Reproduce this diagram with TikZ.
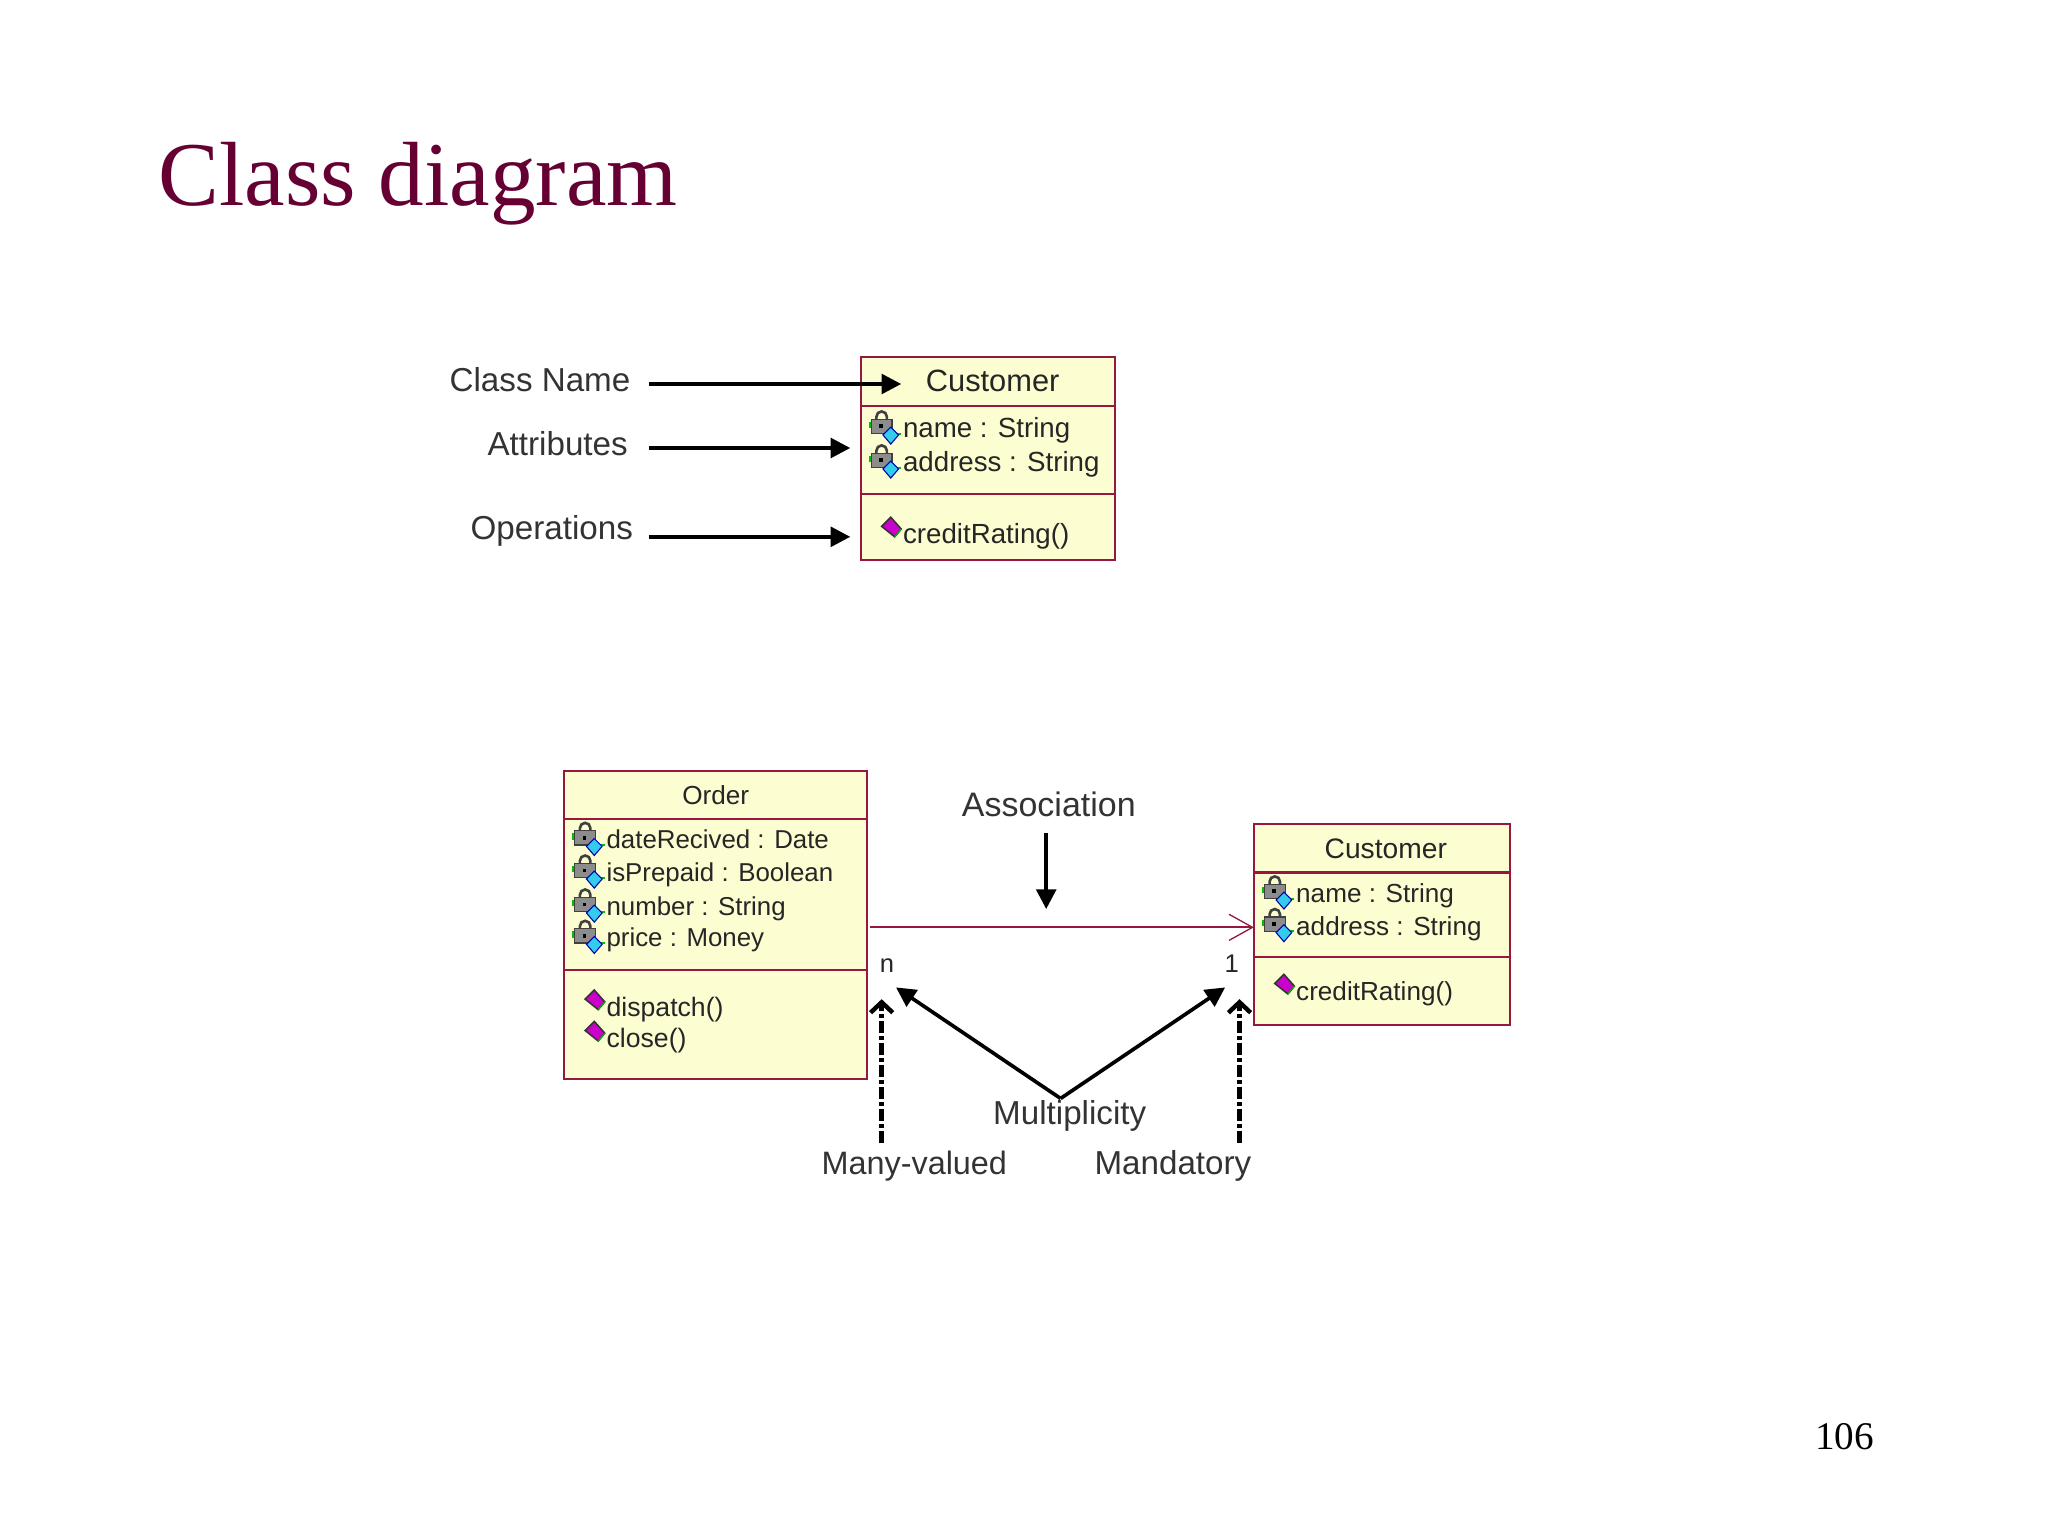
\documentclass[tikz,border=0pt]{standalone}
\usepackage{fontspec}
\setmainfont{Liberation Sans}
\newfontfamily\seriffont{Liberation Serif}
\usetikzlibrary{positioning,arrows.meta}
\definecolor{umlborder}{HTML}{98173F}
\definecolor{umlfill}{HTML}{FDFDD2}
\definecolor{slidetitle}{HTML}{660033}
\definecolor{opmagenta}{HTML}{CC00CC}
\definecolor{attrcyan}{HTML}{33CCEE}
\tikzset{
  partbox/.style={draw=umlborder,fill=umlfill,line width=0.8pt,inner sep=0pt,outer sep=0pt,text=black!85},
  rowtext/.style={inner sep=0pt,anchor=base west,text=black!85},
  calltext/.style={inner sep=0pt,text=black!80,font=\fontsize{13}{15}\selectfont},
  sidetext/.style={calltext,anchor=base east,font=\fontsize{12.7}{15}\selectfont},
  pointer/.style={line width=1.4pt,-{Triangle[length=7.5pt,width=7.5pt]}},
  dashptr/.style={line width=1.7pt,dash pattern=on 4.5pt off 1.2pt on 1.5pt off 1.2pt,-{Straight Barb[length=4pt,width=8.5pt]}},
  lockicon/.pic={
    \draw[green!75!black,line width=0.7pt] (-25,-7) -- (-25,-12) (-12,-3) -- (-1,-3);
    \draw[black!75,line width=1pt] (-20,-13) -- (-20,-16) arc (180:360:4 and 4) -- (-12,-13);
    \fill[black!45,draw=black!75,line width=0.5pt] (-24,-14) rectangle (-8,-3);
    \fill[black] (-18,-10) rectangle (-15,-7);
    \fill[attrcyan,draw=blue!65!black,line width=0.4pt] (-15,-2) -- (-9,-8) -- (-3,-2) -- (-9,5) -- cycle;
  },
  opicon/.pic={
    \fill[opmagenta,draw=black!80,line width=0.6pt] (-9,-20) -- (-16,-13) -- (-6,-5) -- (-1,-11) -- cycle;
    \draw[green!70!black,line width=0.5pt] (-6,-5) -- (-1,-11);
  }
}
\begin{document}
\begin{tikzpicture}[x=0.5pt,y=-0.5pt]
  \useasboundingbox (0,0) rectangle (1568,1176);
  \node[anchor=base west,inner sep=0pt,text=slidetitle,font=\seriffont\fontsize{34.9}{40}\selectfont] (title) at (121,157) {Class diagram};
  \node[anchor=base east,inner sep=0pt,font=\seriffont\fontsize{15}{18}\selectfont] (pageno) at (1435,1110) {106};

  % upper class box
  \node[partbox,anchor=north west,minimum width=97.5pt,minimum height=19pt,font=\fontsize{11.8}{14}\selectfont] (custhead) at (659,273) {\hspace*{3.5pt}Customer};
  \node[partbox,below=0pt of custhead,minimum width=97.5pt,minimum height=33.5pt] (custattr) {};
  \node[partbox,below=0pt of custattr,minimum width=97.5pt,minimum height=25.5pt] (custops) {};
  \begin{scope}[every node/.append style={font=\fontsize{10.6}{13}\selectfont}]
    \node[rowtext] (custname) at (691,335) {name : String};
    \node[rowtext] (custaddr) at (691,361) {address : String};
    \node[rowtext] (custrate) at (691,416) {creditRating()};
  \end{scope}
  \pic at (custname.base west) {lockicon};
  \pic at (custaddr.base west) {lockicon};
  \pic at (custrate.base west) {opicon};

  \node[sidetext] (lblname) at (483,300) {Class Name};
  \node[sidetext] (lblattr) at (481,349) {Attributes};
  \node[sidetext] (lblops) at (485,413) {Operations};
  \coordinate (tipname) at (690,294);
  \coordinate (tipattr) at (651,343);
  \coordinate (tipops) at (651,411);
  \coordinate (tailx) at (497,0);
  \draw[pointer] (tailx |- tipname) -- (tipname);
  \draw[pointer] (tailx |- tipattr) -- (tipattr);
  \draw[pointer] (tailx |- tipops) -- (tipops);

  % order box
  \node[partbox,anchor=north west,minimum width=116pt,minimum height=18.5pt,font=\fontsize{10}{12}\selectfont] (orderhead) at (432,590) {Order};
  \node[partbox,below=0pt of orderhead,minimum width=116pt,minimum height=58pt] (orderattr) {};
  \node[partbox,below=0pt of orderattr,minimum width=116pt,minimum height=41.5pt] (orderops) {};
  \foreach \rowname/\rowy/\rowtxt in {rowdate/650/dateRecived : Date,rowpaid/675/isPrepaid : Boolean,rownum/701/number : String,rowprice/725/price : Money}{
    \node[rowtext,font=\fontsize{9.9}{12}\selectfont] (\rowname) at (464,\rowy) {\rowtxt};
    \pic at (\rowname.base west) {lockicon};
  }
  \foreach \rowname/\rowy/\rowtxt in {rowship/778/dispatch(),rowclose/802/close()}{
    \node[rowtext,font=\fontsize{10.2}{12}\selectfont] (\rowname) at (464,\rowy) {\rowtxt};
    \pic at (\rowname.base west) {opicon};
  }

  % lower customer box
  \node[partbox,anchor=north west,minimum width=98pt,minimum height=18.5pt,font=\fontsize{10.8}{13}\selectfont] (buyerhead) at (960,631) {\hspace*{3pt}Customer};
  \node[partbox,below=0pt of buyerhead,minimum width=98pt,minimum height=32.5pt] (buyerattr) {};
  \node[partbox,below=0pt of buyerattr,minimum width=98pt,minimum height=26pt] (buyerops) {};
  \begin{scope}[every node/.append style={font=\fontsize{10}{12}\selectfont}]
    \node[rowtext] (buyername) at (992,691) {name : String};
    \node[rowtext] (buyeraddr) at (992,716) {address : String};
    \node[rowtext] (buyerrate) at (992,766) {creditRating()};
  \end{scope}
  \pic at (buyername.base west) {lockicon};
  \pic at (buyeraddr.base west) {lockicon};
  \pic at (buyerrate.base west) {opicon};

  % association and its callouts
  \coordinate (assocleft) at (666,710);
  \draw[umlborder,line width=0.7pt,-{Straight Barb[length=9pt,width=10pt,line width=0.5pt]}] (assocleft) -- (buyerattr.west |- assocleft);
  \node[calltext] (lblassoc) at (803,616) {Association};
  \node[inner sep=0pt,text=black!85,font=\fontsize{9.8}{12}\selectfont] (mulmany) at (679,739) {n};
  \node[inner sep=0pt,text=black!85,font=\fontsize{9.8}{12}\selectfont] (mulone) at (943,738) {1};
  \coordinate (assoctail) at (801,638);
  \coordinate (assoctip) at (801,696);
  \draw[pointer] (assoctail) -- (assoctip);
  \node[calltext,font=\fontsize{12.7}{15}\selectfont] (lblmult) at (819,854) {Multiplicity};
  \node[calltext,font=\fontsize{12.4}{15}\selectfont] (lblmany) at (700,893) {Many-valued};
  \node[calltext,font=\fontsize{12.7}{15}\selectfont] (lblmand) at (898,893) {Mandatory};
  \coordinate (multroot) at (812,841);
  \coordinate (multleft) at (686,756);
  \coordinate (multright) at (938,756);
  \draw[pointer] (multroot) -- (multleft);
  \draw[pointer] (multroot) -- (multright);
  \coordinate (manytail) at (675,875);
  \coordinate (manytip) at (675,765);
  \coordinate (mandtail) at (949,875);
  \coordinate (mandtip) at (949,765);
  \draw[dashptr] (manytail) -- (manytip);
  \draw[dashptr] (mandtail) -- (mandtip);
\end{tikzpicture}
\end{document}
